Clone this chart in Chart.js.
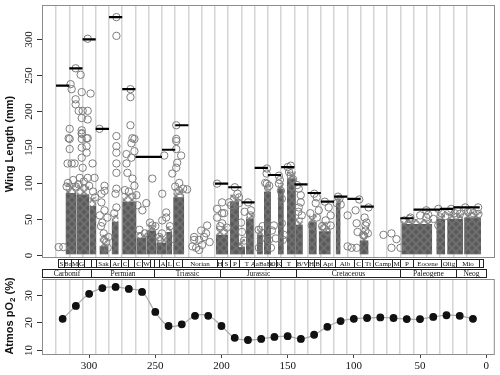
<!DOCTYPE html>
<html><head><meta charset="utf-8">
<script src="https://cdn.jsdelivr.net/npm/chart.js@4"></script>
<style>
html,body{margin:0;padding:0;background:#fff;width:500px;height:375px;overflow:hidden}
canvas{position:absolute;left:0}
#c1{top:0;width:500px;height:282px}
#c2{top:270px;width:500px;height:105px}
</style></head>
<body>
<canvas id="c1" width="500" height="282"></canvas>
<canvas id="c2" width="500" height="105"></canvas>
<script>
// ---------- DATA ----------
const X_MIN = -6.5, X_MAX = 335.6;               // Ma, axis reversed
const gridAges = [325,315,305,295,285,275,265,255,245,235,225,215,205,195,185,175,165,155,145,135,125,115,105,95,85,75,65,55,45,35,25,15];
const wingTicks = [0,50,100,150,200,250,300];
const o2Ticks = [10,20,30];
const ageTicks = [300,250,200,150,100,50,0];

// dense (over-plotted) clusters of wing lengths: age span, solid top, loose top
const blobFrom   = [317.8,309.6,299.8,292.2,283,275,264.3,256.8,249.3,241.8,236.5,204.2,193.6,186.8,181.6,173.3,168,157.4,150.6,143.9,134.3,126.6,113.8,95.8,64.2,37.8,29.6,16.8];
const blobTo     = [309.6,299.8,294.6,285.4,277.7,264.3,256.8,249.3,241.8,237.2,228.2,195.1,186.8,182.3,175.6,168.8,162.7,153,143.9,138.6,128.1,117.6,110.1,89,40.9,31.1,17.5,4];
const blobTop    = [86,84,68,12,46,74,24,34,17,32,80,28,74,11,50,28,88,92,106,42,46,33,72,20,43,50,50,52];
const blobFringe = [100,98,80,28,56,86,32,42,28,40,92,40,84,22,58,40,98,100,116,52,56,46,80,32,50,58,58,60];

// individual wing lengths [age Ma, wing mm]
const wingPoints = [
[323,11],[319.5,11],
[314.0,237],[313.2,230],[306.4,250],[310.2,216],[310.2,209],[305.6,226],[298.9,224],[307.9,200],[304.9,200],[301.1,200],[305.6,190],[301.1,188],[314.7,175],[305.6,173],[305.6,169],[315.5,162],[301.1,162],[310.2,259],[301.1,300],
[314.7,161],[314.7,147],[313.2,127],[316.3,127],[311.0,127],[305.6,168],[305.6,161],[305.6,149],[305.6,135],[304.9,121],[307.1,107],[301.9,162],[301.9,151],[301.9,142],[301.1,107],[297.4,127],[295.9,107],
[316,100],[312,104],[308,98],[304,102],[300,96],[297,88],[295.5,80],[317,95],[310,95],
[292.2,175],[290.7,85],[288.4,96],[288.4,89],[290.7,73],[288.4,62],[286.2,52],[285.4,25],[291,40],[289,30],[287,18],[292,55],[286,10],[290,45],
[279.4,304],[279.4,330],[279.4,165],[279.4,151],[279.4,142],[279.4,127],[279.4,114],[279.4,92],[280.1,85],[279.4,66],[281,58],
[268.8,230],[268.8,219],[268.8,180],[265.8,161],[271.8,140],[271.8,127],[271.1,114],[268.1,155],[267.3,162],[265.8,144],[268.1,135],[267.3,106],[265.8,96],[264.3,83],[263.6,69],[273,90],[270,88],
[256.8,72],[252.3,106],[259.8,62],[252.3,41],[262,35],[258,30],[254,45],[250,40],
[244.8,85],[241.8,59],[241.8,52],[244.8,48],[243.3,138],[247,25],[245,30],[239,40],[238,22],
[234.2,180],[234.2,161],[234.2,158],[234.2,147],[233.5,128],[234.2,121],[237.2,113],[232.0,100],[232.0,89],[230.5,138],[235,95],[229,92],
[226.0,91],[220.7,21],[216.9,21],[211.7,30],[214.7,14],[219.2,10],[210.9,41],[215.4,34],[220.7,25],[213.2,25],[216.9,7],[209,18],[222,12],
[203.4,99],[203.4,64],[203.4,52],[199.6,58],[199.6,44],[194.3,73],[199.6,73],[198.1,58],[201,40],[196,38],
[192.8,69],[190,94],[188,85],
[186.8,80],[186.8,72],[185.3,45],[184.6,32],[183,20],[182.6,60],
[180,73],[177.8,62],[178,55],
[170.3,23],[171.8,10],[172,35],[169,40],
[165.8,120],[165.8,99],[164,96],[167,100],[166,113],
[160.5,41],[162.0,34],[159.0,23],[162.7,10],[164.2,21],
[156.7,110],[156.7,99],[155.2,89],[154.5,78],[154.5,44],[153.0,28],[153.7,21],[156,104],
[150,122],[147.7,124],[147.7,110],[147.0,94],[149,115],[146,105],
[143,97],[141.7,92],[140.2,83],[141.7,66],[139.4,55],[140.2,73],[142,60],
[130,85],[128.1,80],[128.9,72],[126.6,62],[131.9,41],[128.1,52],[133,58],
[122,74],[119.1,66],[117.6,55],[117.6,41],[121.4,48],[120.6,32],[124,40],
[112,81],[111,78],[110,70],[113,72],
[104.8,55],[104.8,12],[98.8,62],[98.0,44],[97.3,32],[98.0,10],[101.8,10],[96,77],
[92.0,52],[91.3,41],[91.3,34],[90.5,45],[89.0,66],[93,28],[89.5,30],
[77.7,28],[71.7,30],[71.7,10],[67.9,22],[64.9,10],
[57.4,52],[62,48],[58,50],[50,55],[45.4,62],[45.4,52],[44,56],[40,50],[36.3,64],[36.3,41],[34,58],[31,54],[28,60],[26.6,64],[24,58],[22,62],[20,57],[16.0,66],[14,60],[12,62],[10,58],[6.2,66],[6,57]
];

// maximum wing length per 10 Myr bin
const binStart = [325,315,305,295,285,275,265,255,245,235,205,195,185,175,165,155,145,135,125,115,105,95,65,55,45,35,25,15];
const binMax   = [235,259,299,175,330,230,136,136,146,180,99,94,73,121,111,122,98,86,74,81,78,67,51,63,63,64,66,66];

// geological stages and periods
const stageLabels = ['S','Ba','M','G','','','Sak','Ar','C','','C','W','','','A','L','C','Norian','H','S','P','T','AaBaBt','O','K','T','B/V','H','B','Apt','Alb','C','Tt','Camp','M','P','Eocene','Olig','Mio',''];
const stageStart  = [323.2,318.8,313.6,308.3,303.7,298.9,294.6,284.4,275.6,270.6,265.8,260.4,253.8,251,247,242,237,229.5,203.5,199.5,193.5,186.5,175.6,164.5,159.2,155.4,144,135,130.5,126,114,100,94,86,71.5,65,55.5,34,23,5.3];
const stageEnd    = [318.8,313.6,308.3,303.7,298.9,294.6,284.4,275.6,270.6,265.8,260.4,253.8,251,247,242,237,229.5,203.5,199.5,193.5,186.5,175.6,164.5,159.2,155.4,144,135,130.5,126,114,100,94,86,71.5,65,55.5,34,23,5.3,2.6];
const periodLabels = ['Carbonif','Permian','Triassic','Jurassic','Cretaceous','Paleogene','Neog'];
const periodStart  = [X_MAX,298.9,251,201.3,144,65,23];
const periodEnd    = [298.9,251,201.3,144,65,23,0];

// atmospheric pO2
const o2Age = [320,310,300,290,280,270,260,250,240,230,220,210,200,190,180,170,160,150,140,130,120,110,100,90,80,70,60,50,40,30,20,10];
const o2Val = [21.3,26,30.4,32.5,32.9,32.2,31.1,23.8,18.7,19.3,22.4,22.4,18.7,14.4,13.6,14,14.7,15,14,15.5,18.4,20.5,21.3,21.6,21.8,21.6,21.2,21.2,22,22.6,22.4,21.3];

// ---------- BUILD ----------
Chart.defaults.font.family = '"Liberation Serif", serif';
Chart.defaults.color = '#111';

function ringPattern(bg, ring){
  const c=document.createElement('canvas'); c.width=8; c.height=8;
  const g=c.getContext('2d');
  if(bg){ g.fillStyle=bg; g.fillRect(0,0,8,8); }
  g.strokeStyle=ring; g.lineWidth=1;
  [[0,0],[8,0],[0,8],[8,8],[4,4]].forEach(([cx,cy])=>{ g.beginPath(); g.arc(cx,cy,3.5,0,Math.PI*2); g.stroke(); });
  return g.createPattern(c,'repeat');
}

const blobData = [], fringeData = [];
blobFrom.forEach((f,i)=>{
  blobData.push({x:f,y:blobTop[i]},{x:blobTo[i],y:blobTop[i]},{x:blobTo[i],y:null});
  fringeData.push({x:f,y:blobFringe[i]},{x:blobTo[i],y:blobFringe[i]},{x:blobTo[i],y:null});
});
const maxData = [];
binStart.forEach((s,i)=>{ maxData.push({x:s,y:binMax[i]},{x:s-10,y:binMax[i]},{x:s-10,y:null}); });

function rotText(ctx, txt, x, y, font, color){
  ctx.save(); ctx.translate(x,y); ctx.rotate(-Math.PI/2);
  ctx.font=font; ctx.fillStyle=color; ctx.textAlign='center'; ctx.textBaseline='middle';
  ctx.fillText(txt,0,0); ctx.restore();
}
function gridAfterBuild(s){ s.ticks = gridAges.map(v=>({value:v})); }

const topDecor = {
  id:'topDecor',
  afterDraw(chart){
    const {ctx, chartArea:a, scales:{x,y}} = chart;
    ctx.save();
    ctx.strokeStyle='#8c8c8c'; ctx.lineWidth=1;
    ctx.strokeRect(a.left+0.5, a.top+0.5, a.right-a.left-1, a.bottom-a.top);
    ctx.strokeStyle='#333';
    wingTicks.forEach(v=>{
      const py=Math.round(y.getPixelForValue(v))+0.5;
      ctx.beginPath(); ctx.moveTo(a.left-5,py); ctx.lineTo(a.left,py); ctx.stroke();
      rotText(ctx,String(v),a.left-13,py,'11px "Liberation Serif"','#111');
    });
    rotText(ctx,'Wing Length (mm)',10,144,'bold 11px "Liberation Sans"','#111');
    const sy=a.bottom+2, sh=8;
    ctx.strokeStyle='#222'; ctx.lineWidth=1; ctx.fillStyle='#111';
    ctx.textAlign='center'; ctx.textBaseline='middle';
    stageLabels.forEach((lab,i)=>{
      const x0=Math.round(x.getPixelForValue(stageStart[i])), x1=Math.round(x.getPixelForValue(stageEnd[i]));
      ctx.strokeRect(x0+0.5, sy+0.5, x1-x0, sh);
      if(lab){ ctx.font='7px "Liberation Serif"'; ctx.fillText(lab,(x0+x1)/2+0.5,sy+4.8); }
    });
    const py0=a.bottom+12, ph=8;
    periodLabels.forEach((lab,i)=>{
      const x0=Math.round(x.getPixelForValue(periodStart[i])), x1=Math.round(x.getPixelForValue(periodEnd[i]));
      ctx.strokeRect(x0+0.5, py0+0.5, x1-x0, ph);
      ctx.font='7.5px "Liberation Serif"'; ctx.fillText(lab,(x0+x1)/2+0.5,py0+4.8);
    });
    ctx.restore();
  }
};

new Chart(document.getElementById('c1'), {
  type:'scatter',
  data:{ datasets:[
    { type:'line', data:fringeData, borderColor:'rgba(0,0,0,0)', borderWidth:0, pointRadius:0, tension:0,
      spanGaps:false, fill:{value:1}, backgroundColor:ringPattern(null,'#7e7e7e'), order:4 },
    { type:'line', data:blobData, borderColor:'rgba(0,0,0,0)', borderWidth:0, pointRadius:0, tension:0,
      spanGaps:false, fill:{value:1}, backgroundColor:ringPattern('#5a5a5a','#747474'), order:3 },
    { type:'scatter', data:wingPoints.map(p=>({x:p[0],y:p[1]})), pointRadius:3.7, borderWidth:1,
      pointBorderColor:'#7e7e7e', pointBackgroundColor:'rgba(0,0,0,0)', order:2 },
    { type:'line', data:maxData, borderColor:'#000', borderWidth:2.2, pointRadius:0, tension:0,
      spanGaps:false, fill:false, order:1 }
  ]},
  options:{
    responsive:false, animation:false, devicePixelRatio:1, events:[],
    layout:{padding:{top:3,right:3,left:0,bottom:0}},
    plugins:{legend:{display:false}, tooltip:{enabled:false}},
    scales:{
      x:{type:'linear', reverse:true, min:X_MIN, max:X_MAX, position:'bottom',
         afterBuildTicks:gridAfterBuild, ticks:{display:false},
         grid:{color:'#d4d4d4', lineWidth:1.5, drawTicks:false}, border:{display:false},
         afterFit:s=>{s.height=25;}},
      y:{type:'linear', min:-2.75, max:346.8, ticks:{display:false}, grid:{display:false}, border:{display:false},
         afterFit:s=>{s.width=42;}}
    }
  },
  plugins:[topDecor]
});

const botDecor = {
  id:'botDecor',
  afterDraw(chart){
    const {ctx, chartArea:a, scales:{y}} = chart;
    ctx.save();
    ctx.strokeStyle='#8c8c8c'; ctx.lineWidth=1;
    ctx.strokeRect(a.left+0.5, a.top+0.5, a.right-a.left-1, a.bottom-a.top);
    ctx.strokeStyle='#333';
    o2Ticks.forEach(v=>{
      const py=Math.round(y.getPixelForValue(v))+0.5;
      ctx.beginPath(); ctx.moveTo(a.left-5,py); ctx.lineTo(a.left,py); ctx.stroke();
      rotText(ctx,String(v),a.left-13,py,'11px "Liberation Serif"','#111');
    });
    ctx.translate(10,46); ctx.rotate(-Math.PI/2);
    ctx.fillStyle='#111'; ctx.textBaseline='middle'; ctx.textAlign='left';
    const f1='bold 11px "Liberation Sans"', f2='bold 8px "Liberation Sans"';
    ctx.font=f1; const w1=ctx.measureText('Atmos pO').width, w3=ctx.measureText(' (%)').width;
    ctx.font=f2; const w2=ctx.measureText('2').width;
    let sx=-(w1+w2+w3)/2;
    ctx.font=f1; ctx.fillText('Atmos pO',sx,0); sx+=w1;
    ctx.font=f2; ctx.fillText('2',sx,3); sx+=w2;
    ctx.font=f1; ctx.fillText(' (%)',sx,0);
    ctx.restore();
  }
};

new Chart(document.getElementById('c2'), {
  type:'line',
  data:{ datasets:[
    { data:o2Age.map((a,i)=>({x:a,y:o2Val[i]})), borderColor:'#a8a8a8', borderWidth:1.2, tension:0.4,
      pointRadius:3.3, pointBackgroundColor:'#111', pointBorderColor:'#111', fill:false }
  ]},
  options:{
    responsive:false, animation:false, devicePixelRatio:1, events:[],
    layout:{padding:{top:9,right:3,left:0,bottom:0}},
    plugins:{legend:{display:false}, tooltip:{enabled:false}},
    scales:{
      x:{type:'linear', reverse:true, min:X_MIN, max:X_MAX, position:'bottom',
         afterBuildTicks:s=>{ s.ticks = ageTicks.map(v=>({value:v})); },
         ticks:{font:{size:11, family:'"Liberation Serif"'}, color:'#111', padding:2, maxRotation:0, autoSkip:false},
         grid:{display:true, drawOnChartArea:false, drawTicks:true, tickLength:4, color:'#444'},
         border:{display:false}, afterFit:s=>{s.height=21;}},
      xg:{type:'linear', reverse:true, min:X_MIN, max:X_MAX, position:'bottom',
         afterBuildTicks:gridAfterBuild, ticks:{display:false},
         grid:{color:'#d4d4d4', lineWidth:1.5, drawTicks:false}, border:{display:false},
         afterFit:s=>{s.height=0;}},
      y:{type:'linear', min:8.5, max:35.8, ticks:{display:false}, grid:{display:false}, border:{display:false},
         afterFit:s=>{s.width=42;}}
    }
  },
  plugins:[botDecor]
});
</script>
</body></html>
